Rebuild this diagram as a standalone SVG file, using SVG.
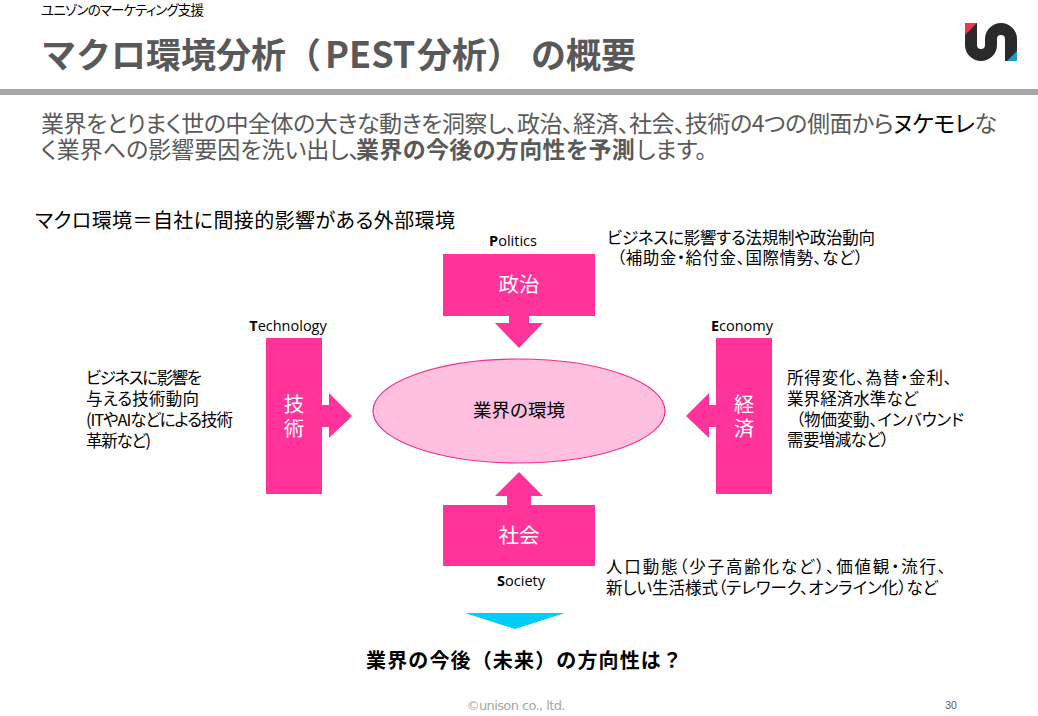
<svg xmlns="http://www.w3.org/2000/svg" width="1038" height="716" viewBox="0 0 1038 716">
<style>
text{font-family:"Noto Sans CJK JP","Noto Sans",sans-serif;fill:#000;font-feature-settings:"palt"}
.lat{font-family:"Open Sans","Noto Sans",sans-serif;font-size:14.5px;text-anchor:middle}
.note{font-size:16.5px}
.hd{font-size:23px;fill:#595959}
.ti{font-size:35px;font-weight:700;fill:#595959;font-feature-settings:normal}
.w{font-size:20.500px;fill:#fff;text-anchor:middle}
.p{fill:#ff3399}
</style>
<rect width="1038" height="716" fill="#fff"/>
<g id="header">
<text x="41" y="15" font-size="13.500" textLength="163">ユニゾンのマーケティング支援</text>
<text class="ti" y="68"><tspan x="41">マクロ環境分析（</tspan><tspan x="325" font-size="36">PEST</tspan><tspan x="417">分析）</tspan><tspan x="531">の概要</tspan></text>
<rect x="0" y="89" width="1038" height="6" fill="#a6a6a6"/>
<g id="logo">
<path d="M971 23V45A10 10 0 0 0 991 45V39A10 10 0 0 1 1011 39V61" fill="none" stroke="#2b2a2b" stroke-width="12"/>
<path d="M965 23H977L965 35Z" fill="#e8384f"/>
<path d="M1017 61H1007L1017 51Z" fill="#1b9ad6"/>
</g>
<text class="hd" x="41" y="132" textLength="956">業界をとりまく世の中全体の大きな動きを洞察し、政治、経済、社会、技術の4つの側面から<tspan style="fill:#000">ヌケモレ</tspan>な</text>
<text class="hd" y="158"><tspan x="41">く業界への影響要因を洗い出し、</tspan><tspan x="356" font-weight="700" letter-spacing=".4">業界の今後の方向性を予測</tspan><tspan x="636">します。</tspan></text>
</g>
<text id="macro" x="35" y="228" font-size="20" textLength="420">マクロ環境＝自社に間接的影響がある外部環境</text>
<g id="connectors">
<path class="p" d="M509 316H529V323H543L519 348L495 323H509Z"/>
<path class="p" d="M322 405H329V393L352 416L329 438V427H322Z"/>
<path class="p" d="M716 405H709V393L686 416L709 438V427H716Z"/>
<path class="p" d="M507 505V496H495L519 472L543 496H531V505Z"/>
</g>
<g id="politics">
<rect class="p" x="443" y="254" width="152" height="62"/>
<text class="w" x="519" y="292">政治</text>
<text class="lat" x="513" y="246"><tspan font-weight="700">P</tspan>olitics</text>
</g>
<g id="technology">
<rect class="p" x="266" y="338" width="56" height="156"/>
<text class="w" x="294" y="412">技</text>
<text class="w" x="294" y="436">術</text>
<text class="lat" x="288" y="331"><tspan font-weight="700">T</tspan>echnology</text>
</g>
<g id="economy">
<rect class="p" x="716" y="338" width="56" height="156"/>
<text class="w" x="744" y="412">経</text>
<text class="w" x="744" y="436">済</text>
<text class="lat" x="742" y="331"><tspan font-weight="700">E</tspan>conomy</text>
</g>
<g id="society">
<rect class="p" x="443" y="505" width="152" height="61"/>
<text class="w" x="519" y="543">社会</text>
<text class="lat" x="521" y="586"><tspan font-weight="700">S</tspan>ociety</text>
</g>
<g id="environment">
<ellipse cx="519" cy="411" rx="146" ry="52" fill="#ffbfdf" stroke="#ee2f8f" stroke-width="1.200"/>
<text x="519" y="417" font-size="18.500" text-anchor="middle">業界の環境</text>
</g>
<g id="notes">
<text class="note" x="607" y="244" textLength="268">ビジネスに影響する法規制や政治動向</text>
<text class="note" x="617" y="264" textLength="246">（補助金・給付金、国際情勢、など）</text>
<text class="note" x="86" y="384" textLength="116">ビジネスに影響を</text>
<text class="note" x="86" y="405" textLength="113">与える技術動向</text>
<text class="note" x="86" y="426" textLength="147">(ITやAIなどによる技術</text>
<text class="note" x="86" y="447" textLength="65">革新など)</text>
<text class="note" x="787" y="384" textLength="165">所得変化、為替・金利、</text>
<text class="note" x="787" y="405" textLength="131">業界経済水準など</text>
<text class="note" x="796" y="426" textLength="168">（物価変動、インバウンド</text>
<text class="note" x="787" y="446" textLength="102">需要増減など）</text>
<text class="note" x="606" y="573" textLength="340">人口動態（少子高齢化など）、価値観・流行、</text>
<text class="note" x="606" y="594" textLength="332">新しい生活様式（テレワーク、オンライン化）など</text>
</g>
<g id="result">
<path d="M465 613H565L515 629Z" fill="#00ccff"/>
<text x="366" y="668" font-size="20" font-weight="700" style="font-feature-settings:normal" textLength="316">業界の今後（未来）の方向性は？</text>
</g>
<g id="footer">
<text x="516" y="710" font-size="13" text-anchor="middle" style="font-family:'DejaVu Sans',sans-serif;fill:#a6a6a6" textLength="99">©unison co., ltd.</text>
<text x="951" y="709" font-size="10.500" text-anchor="middle" style="font-family:'Liberation Sans',sans-serif;fill:#595959">30</text>
</g>
</svg>
